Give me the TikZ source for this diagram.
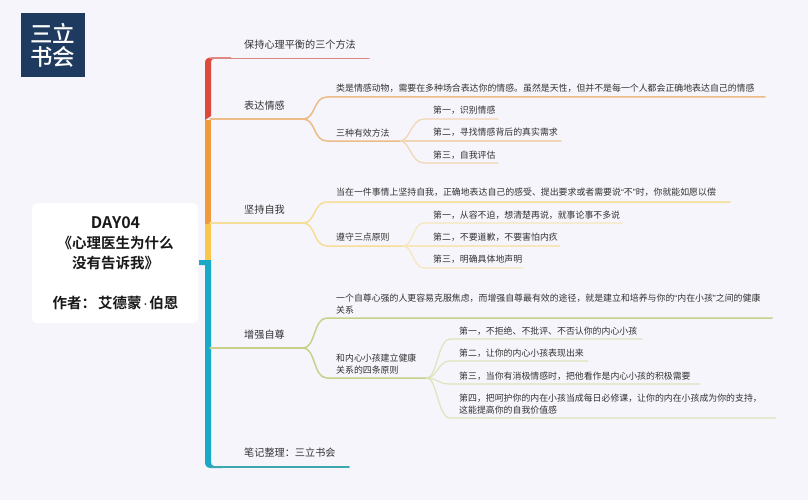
\documentclass[tikz,border=0pt]{standalone}
\usepackage{fontspec}
\setmainfont{Noto Sans CJK SC}
\newfontfamily\boldcjk{Noto Sans CJK SC Bold}
\newfontfamily\medcjk{Noto Sans CJK SC Medium}
\newfontfamily\latinq{Liberation Sans}
\newcommand{\nql}{{\latinq “}}
\newcommand{\nqr}{{\latinq ”}}
\definecolor{bgc}{HTML}{F5F5FB}
\definecolor{logoc}{HTML}{1F3A5F}
\definecolor{txtc}{HTML}{333333}
\definecolor{sred}{HTML}{DC4A3E}
\definecolor{sorange}{HTML}{EF9A3D}
\definecolor{syellow}{HTML}{F8C84C}
\definecolor{steal}{HTML}{1AA9C6}
\definecolor{lred}{HTML}{D98A82}
\definecolor{lorange}{HTML}{EBBC85}
\definecolor{lorangeb}{HTML}{F1D6B4}
\definecolor{lyellow}{HTML}{F5DE98}
\definecolor{lyellowb}{HTML}{F6E6BC}
\definecolor{lolive}{HTML}{C8D08A}
\definecolor{lolivec}{HTML}{DFE4BC}
\definecolor{lteal}{HTML}{3AA8AC}
\tikzset{
  topic/.style={anchor=west,inner sep=0pt,text=txtc,font=\fontsize{10.15}{12}\selectfont},
  leaf/.style={anchor=west,inner sep=0pt,text=txtc,align=left,font=\fontsize{8.9}{11.5}\selectfont},
  conn/.style={line width=1.5pt,line cap=round},
  connb/.style={line width=1.2pt,line cap=round},
}
\usetikzlibrary{calc}
\begin{document}
\begin{tikzpicture}[x=1pt,y=-1pt]
\useasboundingbox (0,0) rectangle (808,500);
\fill[bgc] (0,0) rectangle (808,500);
% logo
\node[fill=logoc,minimum width=64pt,minimum height=64pt,inner sep=0pt,anchor=north west] (logo) at (21,13) {};
\node[text=white,inner sep=0pt,font=\fontsize{22.5}{23}\medcjk] (logo1) at (53,33) {三立};
\node[text=white,inner sep=0pt,font=\fontsize{22.5}{23}\medcjk] (logo2) at (53,57) {书会};
% title card
\node[fill=white,rounded corners=5pt,minimum width=166pt,minimum height=120pt,inner sep=0pt,anchor=north west] (card) at (32,203) {};
\node[align=center,inner sep=0pt,text=black!90,font=\fontsize{14.5}{20}\boldcjk] (title) at (115.5,263) {{\fontsize{16}{20}\selectfont DAY04}\\《心理医生为什么\\没有告诉我》\\[20pt]作者：\kern2pt艾德蒙{\latinq\kern1.5pt·\kern1.5pt}伯恩};
% spine
\fill[steal] (199,260) -- (211,260) -- (211,462) .. controls (211,464.5) and (212,465.8) .. (214,466) -- (222,466.5) -- (222,468) -- (211,468) .. controls (207,468) and (205,466) .. (205,462) -- (205,265) -- (199,265) -- cycle;
\fill[syellow] (205,224) rectangle (211,260);
\fill[sorange] (205,120) rectangle (211,224);
\fill[sred] (205,120) -- (205,63) .. controls (205,59.5) and (207,57.5) .. (211,57.5) -- (231,57.5) -- (231,59) -- (214,59) .. controls (212,59) and (211,60) .. (211,62) -- (211,116) -- cycle;
% junction coordinates
\coordinate (s1) at (210,58.5);\coordinate (e1) at (369,58.5);
\coordinate (s2) at (210,119);\coordinate (j2) at (303,119);
\coordinate (e21) at (765,97);\coordinate (j22) at (400,141);\coordinate (c21) at (327,97);\coordinate (c22) at (327,141);
\coordinate (e221) at (498,119);\coordinate (e222) at (561,141);\coordinate (e223) at (498,163);
\coordinate (k2) at (424,0);
\coordinate (s3) at (210,223);\coordinate (j3) at (303,223);
\coordinate (e31) at (730,202);\coordinate (j32) at (403,246);\coordinate (c31) at (327,202);\coordinate (c32) at (327,246);
\coordinate (e321) at (622,223);\coordinate (e322) at (560,246);\coordinate (e323) at (523,268);
\coordinate (s4) at (210,348);\coordinate (j4) at (303,348);
\coordinate (e41) at (772,318);\coordinate (j42) at (427,378);\coordinate (c41) at (327,318);\coordinate (c42) at (327,378);
\coordinate (e421) at (642,339);\coordinate (e422) at (588,361);\coordinate (e423) at (700,384);\coordinate (e424) at (776,418);
\coordinate (k4) at (450,0);
\coordinate (s5) at (210,467);\coordinate (e5) at (349,467);
% connectors
\draw[conn,lred] (s1) -- (e1);
\draw[conn,lorange] (s2) -- (j2);
\draw[conn,lyellow] (s3) -- (j3);
\draw[conn,lolive] (s4) -- (j4);
\draw[conn,lteal] (s5) -- (e5);
\foreach \e/\c in {e21/c21,j22/c22}{\draw[conn,lorange] (j2) .. controls (316,119) and ($(\c)+(-14,0)$) .. (\c) -- (\e);}
\foreach \e in {e221,e222,e223}{\draw[connb,lorangeb] (j22) .. controls (410,141) and ($(k2 |- \e)+(-13,0)$) .. (k2 |- \e) -- (\e);}
\foreach \e/\c in {e31/c31,j32/c32}{\draw[conn,lyellow] (j3) .. controls (316,223) and ($(\c)+(-14,0)$) .. (\c) -- (\e);}
\foreach \e in {e321,e322,e323}{\draw[connb,lyellowb] (j32) .. controls (413,246) and ($(k2 |- \e)+(-11,0)$) .. (k2 |- \e) -- (\e);}
\foreach \e/\c in {e41/c41,j42/c42}{\draw[conn,lolive] (j4) .. controls (316,348) and ($(\c)+(-14,0)$) .. (\c) -- (\e);}
\foreach \e in {e421,e422,e423,e424}{\draw[connb,lolivec] (j42) .. controls (437,378) and ($(k4 |- \e)+(-12,0)$) .. (k4 |- \e) -- (\e);}
% text
\node[topic] (t1) at (244,45) {保持心理平衡的三个方法};
\node[topic] (t2) at (244,106) {表达情感};
\node[topic] (t3) at (244,210) {坚持自我};
\node[topic] (t4) at (244,335) {增强自尊};
\node[topic] (t5) at (244,453) {笔记整理：三立书会};
\node[leaf] (a1) at (336,88) {类是情感动物，需要在多种场合表达你的情感。虽然是天性，但并不是每一个人都会正确地表达自己的情感};
\node[leaf] (a2) at (336,133) {三种有效方法};
\node[leaf] (a21) at (433,110) {第一，识别情感};
\node[leaf] (a22) at (433,132) {第二，寻找情感背后的真实需求};
\node[leaf] (a23) at (433,155) {第三，自我评估};
\node[leaf] (b1) at (336,192) {当在一件事情上坚持自我，正确地表达自己的感受、提出要求或者需要说\nql 不\nqr 时，你就能如愿以偿};
\node[leaf] (b2) at (336,237) {遵守三点原则};
\node[leaf] (b21) at (433,215) {第一，从容不迫，想清楚再说，就事论事不多说};
\node[leaf] (b22) at (433,237) {第二，不要道歉，不要害怕内疚};
\node[leaf] (b23) at (433,259) {第三，明确具体地声明};
\node[leaf] (c1) at (336,304) {一个自尊心强的人更容易克服焦虑，而增强自尊最有效的途径，就是建立和培养与你的\nql 内在小孩\nqr 之间的健康\\关系};
\node[leaf] (c2) at (336,364) {和内心小孩建立健康\\关系的四条原则};
\node[leaf] (c21) at (459,331) {第一，不拒绝、不批评、不否认你的内心小孩};
\node[leaf] (c22) at (459,353) {第二，让你的内心小孩表现出来};
\node[leaf] (c23) at (459,376) {第三，当你有消极情感时，把他看作是内心小孩的积极需要};
\node[leaf] (c24) at (459,404) {第四，把呵护你的内在小孩当成每日必修课，让你的内在小孩成为你的支持，\\这能提高你的自我价值感};
\end{tikzpicture}
\end{document}
